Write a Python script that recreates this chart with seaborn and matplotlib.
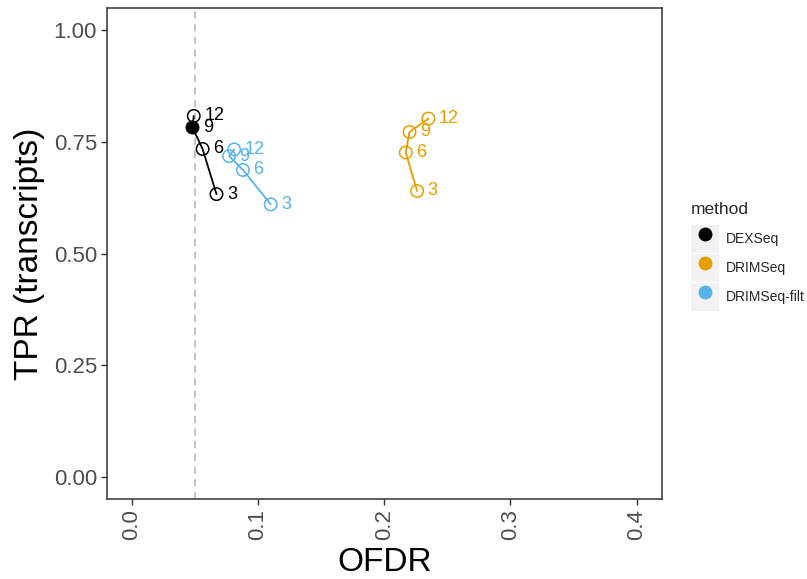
import numpy as np
import pandas as pd
import seaborn as sns
import matplotlib.pyplot as plt
from matplotlib.lines import Line2D
from matplotlib.patches import Patch
from matplotlib.legend_handler import HandlerTuple

# values
methods = ["DEXSeq", "DRIMSeq", "DRIMSeq-filt"]
thresholds = [3, 6, 9, 12]
dexseq_ofdr = [0.067, 0.056, 0.048, 0.049]
dexseq_tpr = [0.633, 0.734, 0.782, 0.808]
drimseq_ofdr = [0.226, 0.217, 0.220, 0.235]
drimseq_tpr = [0.640, 0.726, 0.772, 0.802]
filt_ofdr = [0.110, 0.088, 0.077, 0.081]
filt_tpr = [0.610, 0.687, 0.718, 0.733]
dexseq_filled = [False, False, True, False]
drimseq_filled = [False, False, False, False]
filt_filled = [False, False, False, False]

palette = {"DEXSeq": "#000000", "DRIMSeq": "#E69F00", "DRIMSeq-filt": "#56B4E9"}

# build one long table
df = pd.DataFrame({
    "method": np.repeat(methods, len(thresholds)),
    "thr": thresholds * 3,
    "ofdr": dexseq_ofdr + drimseq_ofdr + filt_ofdr,
    "tpr": dexseq_tpr + drimseq_tpr + filt_tpr,
    "filled": dexseq_filled + drimseq_filled + filt_filled,
})

sns.set_theme(style="white")
plt.rcParams["font.family"] = ["Liberation Sans", "DejaVu Sans"]

fig = plt.figure(figsize=(8.07, 5.79), dpi=100)
ax = fig.add_axes([0.1322, 0.1376, 0.688, 0.849])

# dashed reference line at the nominal FDR
ax.axvline(0.05, color="#BEBEBE", ls=(0, (4, 3)), lw=1.3, zorder=1)

# lines connecting the thresholds
sns.lineplot(data=df, x="ofdr", y="tpr", hue="method", palette=palette,
             sort=False, estimator=None, legend=False, lw=1.3, ax=ax, zorder=2)

# points: open circles, filled when OFDR is under control
sns.scatterplot(data=df, x="ofdr", y="tpr", hue="method", palette=palette,
                s=80, legend=False, ax=ax, zorder=3)
pts = ax.collections[-1]
pts.set_edgecolors([palette[m] for m in df["method"]])
pts.set_facecolors([palette[m] if f else "none" for m, f in zip(df["method"], df["filled"])])
pts.set_linewidth(1.1)

# threshold labels
for _, row in df.iterrows():
    ax.annotate(str(row["thr"]), (row["ofdr"], row["tpr"]), xytext=(7.5, 0),
                textcoords="offset points", va="center", ha="left",
                color=palette[row["method"]], fontsize=13)

ax.set_xlim(-0.02, 0.42)
ax.set_ylim(-0.05, 1.05)
ax.set_xticks([0.0, 0.1, 0.2, 0.3, 0.4])
ax.set_xticklabels(["0.0", "0.1", "0.2", "0.3", "0.4"], rotation=90)
ax.set_yticks([0.0, 0.25, 0.5, 0.75, 1.0])
ax.set_yticklabels(["0.00", "0.25", "0.50", "0.75", "1.00"])
ax.tick_params(axis="both", labelsize=16, labelcolor="#4D4D4D", color="#333333",
               length=4, width=1, direction="out", bottom=True, left=True, pad=3)
for sp in ax.spines.values():
    sp.set_color("#333333")
    sp.set_linewidth(1.1)

ax.set_xlabel("OFDR", fontsize=24, color="black", labelpad=5)
ax.set_ylabel("TPR (transcripts)", fontsize=24, color="black", labelpad=6)

# legend with grey key boxes
handles = [(Patch(facecolor="#F2F2F2", edgecolor="none"),
            Line2D([], [], marker="o", ls="", ms=9, color=palette[m])) for m in methods]
leg = fig.legend(handles, methods, title="method", loc="center left",
                 bbox_to_anchor=(0.848, 0.557), frameon=False, fontsize=10,
                 title_fontsize=12.5, handlelength=2.0, handleheight=2.75,
                 handletextpad=0.5, labelspacing=0.05, borderpad=0,
                 alignment="left", handler_map={tuple: HandlerTuple(ndivide=1)})
# a bit more room between title and keys
leg._legend_box.sep = 6

fig.savefig("out.png", dpi=100)
